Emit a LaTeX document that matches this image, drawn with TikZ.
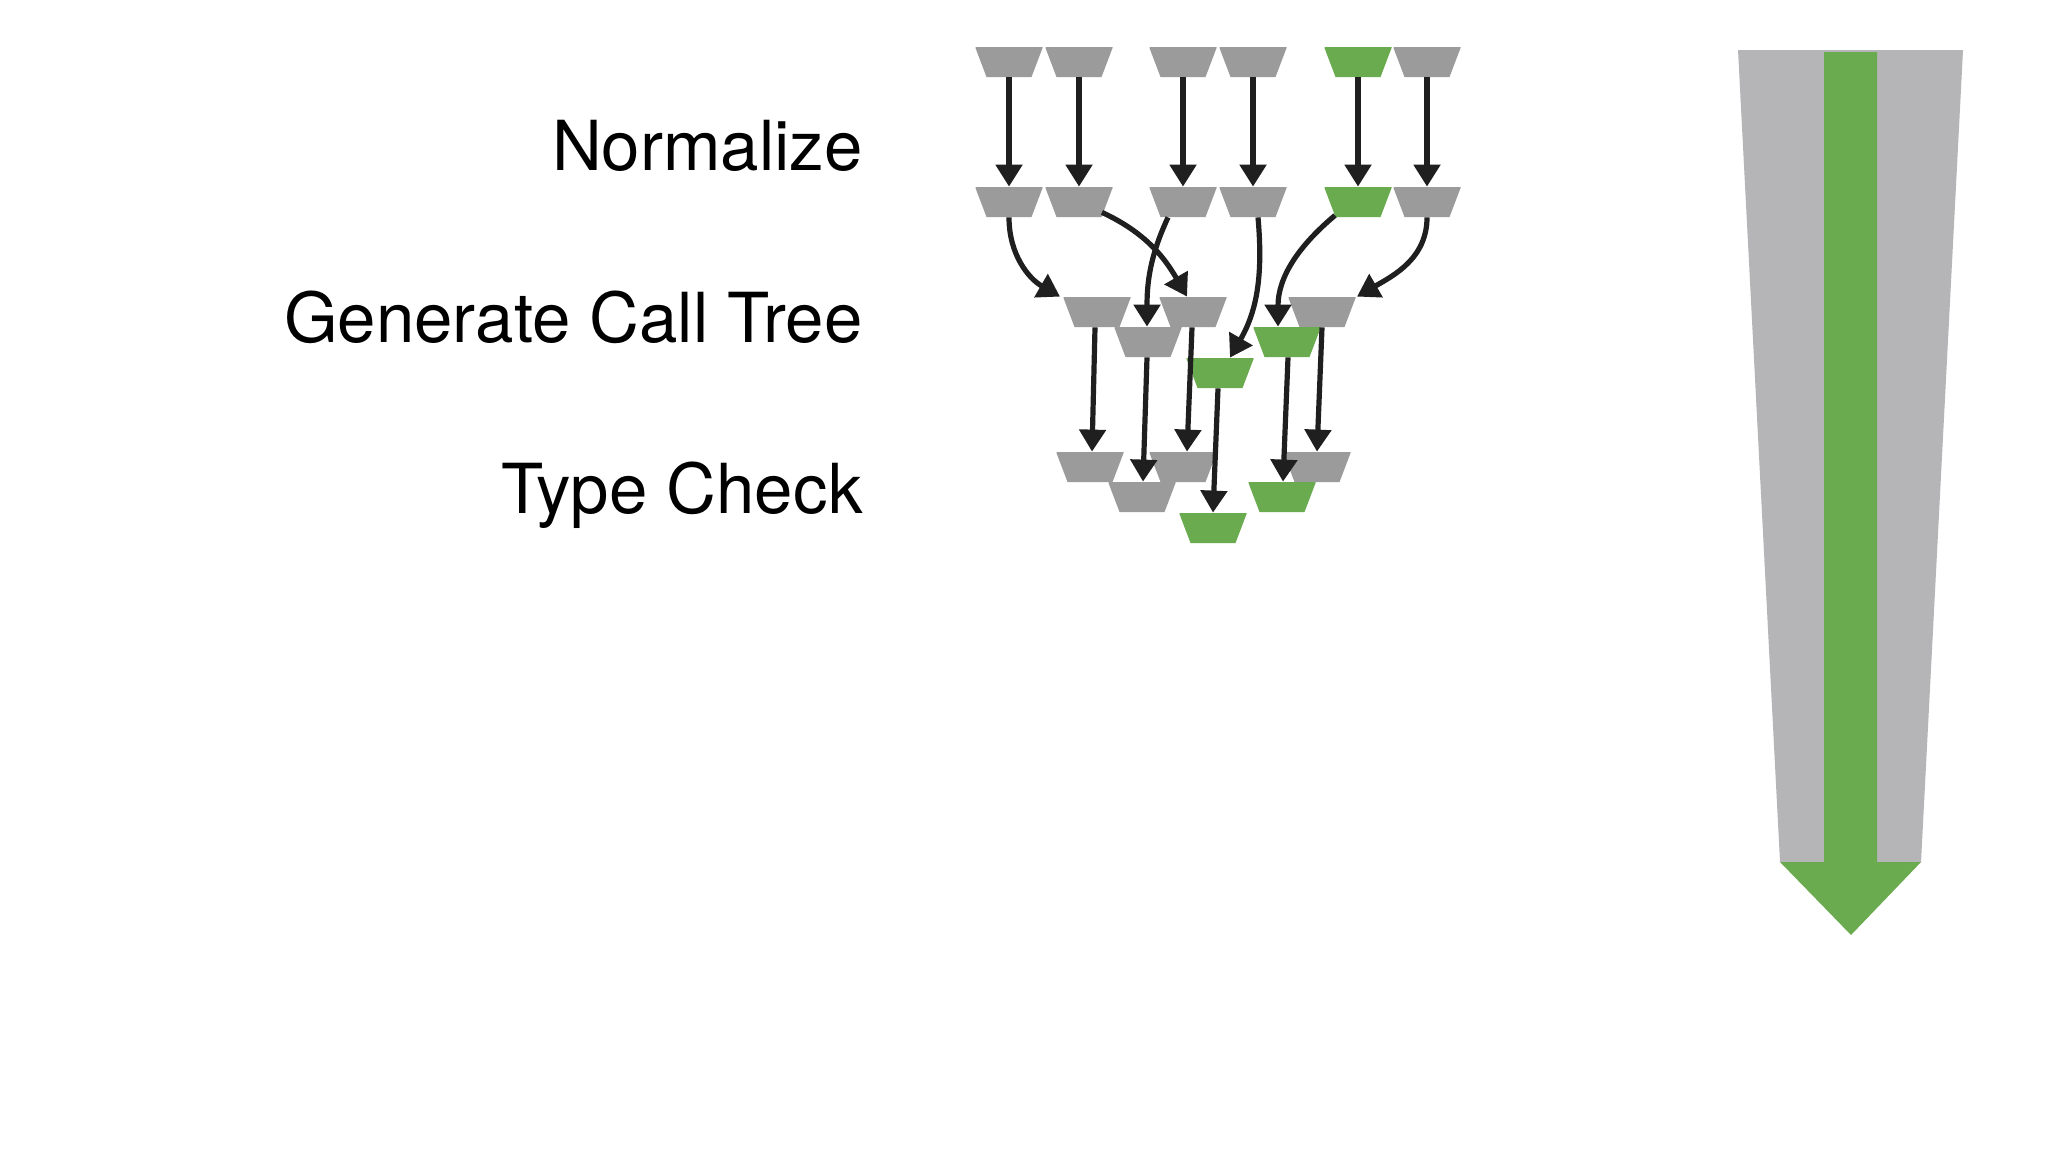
\documentclass[tikz,border=0pt]{standalone}
\usepackage{fontspec}
\setmainfont{TeX Gyre Heros}
\usetikzlibrary{arrows.meta,calc}
\definecolor{tg}{HTML}{9B9B9B}
\definecolor{tgr}{HTML}{6AAB4F}
\definecolor{bg}{HTML}{B5B4B7}
\tikzset{
 tz/.style={rectangle, minimum width=33.5pt, minimum height=15pt, inner sep=0pt, draw=none,
   path picture={\fill[#1] ([xshift=-0.2pt]path picture bounding box.north west) -- ([xshift=0.2pt]path picture bounding box.north east)
      -- ([xshift=-5.5pt]path picture bounding box.south east) -- ([xshift=5.5pt]path picture bounding box.south west) -- cycle;}},
 tz/.default=tg,
 gz/.style={tz=tgr},
 ar/.style={line width=2.6pt, draw=black!88, -{Triangle[length=11pt,width=13pt]}},
 lab/.style={anchor=base east, inner sep=0pt, font=\fontsize{34.5pt}{36pt}\selectfont}
}
\begin{document}
\begin{tikzpicture}[x=0.5pt,y=-0.5pt]
\useasboundingbox[fill=white] (0,0) rectangle (2048,1152);
\node[lab] (l1) at (863,170) {Normalize};
\node[lab] (l2) at (863,342) {Generate Call Tree};
\node[lab] (l3) at (863,513) {Type Check};
% row 1
\node[tz] (a1) at (1009,62) {};
\node[tz] (a2) at (1079,62) {};
\node[tz] (a3) at (1183,62) {};
\node[tz] (a4) at (1253,62) {};
\node[gz] (a5) at (1358,62) {};
\node[tz] (a6) at (1427,62) {};
% row 2
\node[tz] (b1) at (1009,202) {};
\node[tz] (b2) at (1079,202) {};
\node[tz] (b3) at (1183,202) {};
\node[tz] (b4) at (1253,202) {};
\node[gz] (b5) at (1358,202) {};
\node[tz] (b6) at (1427,202) {};
% row 3
\node[tz] (cA) at (1097,312) {};
\node[tz] (cB) at (1193,312) {};
\node[tz] (cC) at (1322,312) {};
\node[tz] (cD) at (1148,342) {};
\node[gz] (cE) at (1287,342) {};
\node[gz] (cF) at (1220,373) {};
% row 4
\node[tz] (dG) at (1090,467) {};
\node[tz] (dH) at (1183,467) {};
\node[tz] (dI) at (1317,467) {};
\node[tz] (dJ) at (1142,497) {};
\node[gz] (dK) at (1282,497) {};
\node[gz] (dL) at (1213,528) {};
% arrows row1->row2
\foreach \i in {1,...,6} \draw[ar] (a\i.south) -- (b\i.north);
% row2->row3
\draw[ar] (b1.south) to[out=-90,in=150] ($(cA.north)+(-37,0)$);
\draw[ar] ($(b2.south)+(23,-5)$) to[out=-25,in=120] ($(cB.north)+(-6,0)$);
\draw[ar] ($(b3.south)+(-15,0)$) to[out=-115,in=90] ($(cD.north)+(-1,0)$);
\draw[ar] ($(b4.south)+(5,0)$) to[out=-85,in=60] ($(cF.north)+(10,0)$);
\draw[ar] ($(b5.south)+(-23,-2)$) to[out=-140,in=90] ($(cE.north)+(-9,0)$);
\draw[ar] (b6.south) to[out=-90,in=30] ($(cC.north)+(35,0)$);
% row3->row4
\draw[ar] ($(cA.south)+(-2,0)$) -- ($(dG.north)+(2,0)$);
\draw[ar] ($(cD.south)+(-1,0)$) -- ($(dJ.north)+(1,0)$);
\draw[ar] ($(cB.south)+(-1,0)$) -- ($(dH.north)+(4,0)$);
\draw[ar] ($(cF.south)+(-2,0)$) -- ($(dL.north)+(0,0)$);
\draw[ar] ($(cE.south)+(1,0)$) -- ($(dK.north)+(1,0)$);
\draw[ar] (cC.south) -- ($(dI.north)+(0,0)$);
% big arrow
\fill[bg] (1738,50) -- (1963,50) -- (1921,862) -- (1780,862) -- cycle;
\fill[tgr] (1824,52) -- (1877,52) -- (1877,862) -- (1921,862) -- (1851,935) -- (1780,862) -- (1824,862) -- cycle;
\end{tikzpicture}
\end{document}
